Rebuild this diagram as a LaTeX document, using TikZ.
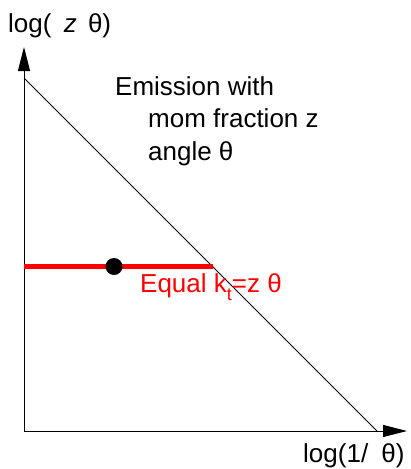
\documentclass[tikz,border=0pt]{standalone}
\usepackage{fontspec}
\setmainfont{Liberation Sans}
\usetikzlibrary{arrows.meta}
\begin{document}
\begin{tikzpicture}[x=1pt,y=-1pt,
  lbl/.style={anchor=base west, inner sep=0pt, font=\fontsize{26}{30}\selectfont},
  axis/.style={line width=1pt, -{Triangle[length=24pt,width=12pt]}},
  thin line/.style={line width=0.9pt}]
\useasboundingbox (0,0) rectangle (411,469);
\coordinate (O) at (24,431);
\coordinate (Y) at (24,47);
\coordinate (X) at (407,431);
\draw[axis] (O) -- (Y);
\draw[axis] (O) -- (X);
\coordinate (D1) at (24,78);
\coordinate (D2) at (377,431);
\draw[thin line] (D1) -- (D2);
\coordinate (R1) at (24,266.5);
\coordinate (R2) at (212.5,266.5);
\draw[red, line width=5pt] (R1) -- (R2);
\node[circle, fill=black, inner sep=0pt, minimum size=17pt] (dot) at (114,266.5) {};
\node[lbl] (ylab) at (8,32) {log(\hspace{5pt} \textit{z}\hspace{4pt} θ)};
\node[lbl] (xlab) at (303,462) {log(1/\hspace{6pt} θ)};
\node[lbl] (em1) at (115,95) {Emission with};
\node[lbl] (em2) at (148,127) {mom fraction z};
\node[lbl] (em3) at (148,160) {angle θ};
\node[lbl, text=red] (eq) at (140,292) {Equal k\raisebox{-0.32em}{\fontsize{18}{20}\selectfont t}=z θ};
\end{tikzpicture}
\end{document}
